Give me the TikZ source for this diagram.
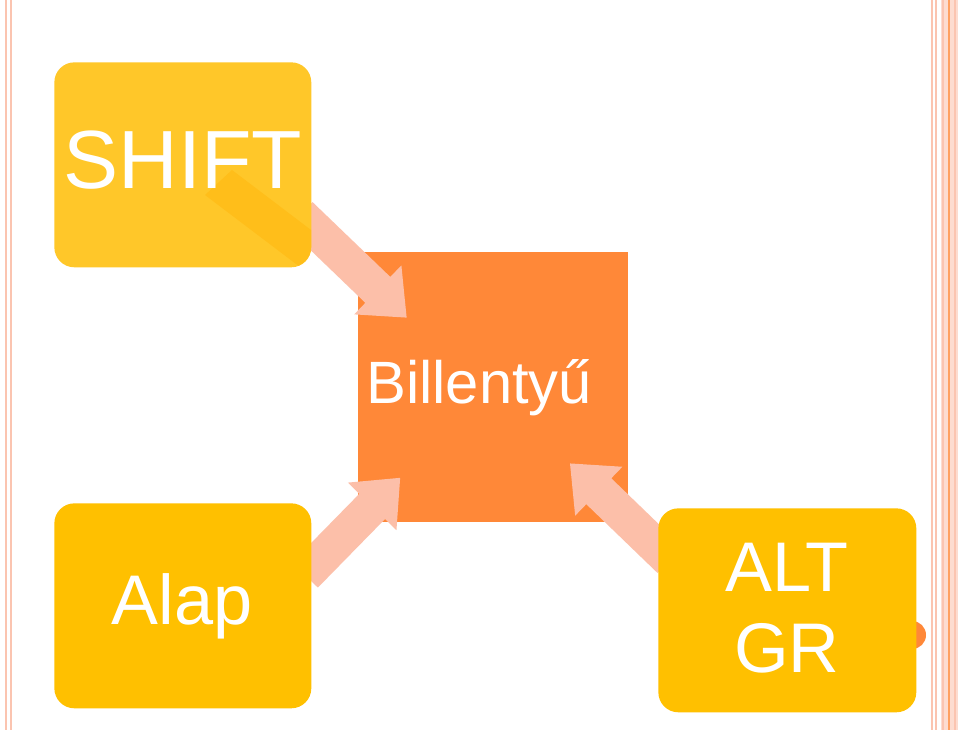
\documentclass[tikz,border=0pt]{standalone}
\usepackage{fontspec}
\setmainfont{Liberation Sans}
\definecolor{pinkb}{HTML}{FBC4B0}
\definecolor{arrowc}{HTML}{FCBFA9}
\definecolor{sq}{HTML}{FF8838}
\definecolor{yel}{HTML}{FFC000}
\definecolor{yel2}{HTML}{FFC729}
\definecolor{shad}{HTML}{FFBE1A}
\begin{document}
\begin{tikzpicture}[x=0.02cm,y=0.02cm,
  keybox/.style={rounded corners=0.4cm,fill=yel,text=white},
  blockarrow/.style={fill=arrowc}]
\useasboundingbox (0,0) rectangle (960,730);
\fill[white] (0,0) rectangle (960,730);
% borders
\foreach \x in {6,11} \draw[pinkb,line width=1.2pt] (\x,0) -- (\x,730);
\fill[pinkb!60] (941,0) rectangle (958,730);
\foreach \x in {932,936,943,949,955} \draw[pinkb,line width=1.1pt] (\x,0) -- (\x,730);
\draw[sq!80,line width=0.8pt] (949,0) -- (949,730);
% orange circle behind ALT GR
\fill[sq] (912,95) circle (14);
% central square
\node[fill=sq,minimum width=5.4cm,minimum height=5.4cm,inner sep=0,anchor=north west,text=white,font=\fontsize{34}{40}\selectfont] (bil) at (358,478) {};
\node[text=white,font=\fontsize{34}{40}\selectfont,anchor=west] (biltxt) at (360,342) {Billentyű};
% arrows
\begin{scope}[shift={(300,515)},rotate=-43.9]
\fill[blockarrow] (0,-18) -- (108,-18) -- (108,-34) -- (148,0) -- (108,34) -- (108,18) -- (0,18) -- cycle;
\end{scope}
\begin{scope}[shift={(305,155)},rotate=45.6]
\fill[blockarrow] (0,-18) -- (96,-18) -- (96,-34) -- (136,0) -- (96,34) -- (96,18) -- (0,18) -- cycle;
\end{scope}
\begin{scope}[shift={(670,170)},rotate=136]
\fill[blockarrow] (0,-18) -- (99,-18) -- (99,-34) -- (139,0) -- (99,34) -- (99,18) -- (0,18) -- cycle;
\end{scope}
% boxes
\node[keybox,fill=yel2,minimum width=5.14cm,minimum height=4.1cm,anchor=north west] (shift) at (54,668) {};
\begin{scope}
\clip[rounded corners=0.4cm] (54,463) rectangle (311,668);
\fill[shad] (232,560) -- (311,500) -- (311,463) -- (300,463) -- (205,535) -- cycle;
\end{scope}
\node[text=white,font=\fontsize{47}{50}\selectfont] (shifttxt) at (183,570) {SHIFT};
\node[keybox,minimum width=5.14cm,minimum height=4.1cm,anchor=north west,font=\fontsize{40}{46}\selectfont] (alap) at (54,227) {};
\node[text=white,font=\fontsize{40}{46}\selectfont] (alaptxt) at (182,124) {Alap};
\node[keybox,minimum width=5.16cm,minimum height=4.08cm,anchor=north west] (alt) at (658,222) {};
\node[text=white,font=\fontsize{40}{46}\selectfont,align=center] (alttxt) at (787,122) {ALT\\GR};
\end{tikzpicture}
\end{document}
